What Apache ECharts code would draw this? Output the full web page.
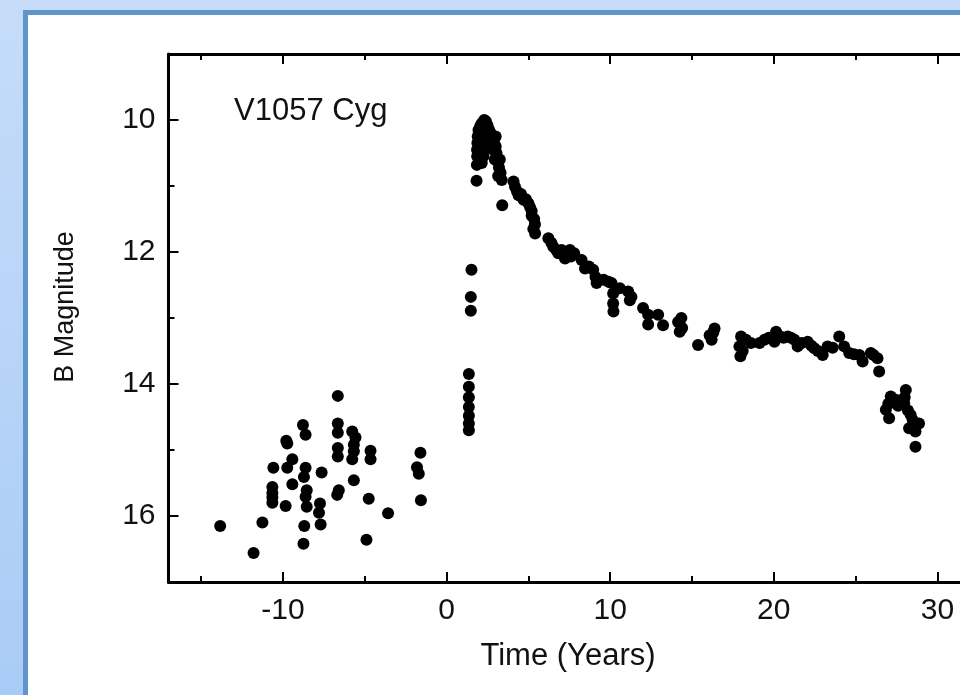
<!DOCTYPE html>
<html><head><meta charset="utf-8">
<script src="https://cdn.jsdelivr.net/npm/echarts@6/dist/echarts.min.js"></script>
<style>
html,body{margin:0;padding:0;width:960px;height:695px;overflow:hidden;}
#bg{position:absolute;left:0;top:0;width:960px;height:695px;background:linear-gradient(to bottom,#c6dcf9,#a9ccf6);}
#panel{position:absolute;left:23px;top:10px;width:1000px;height:800px;background:#fff;border:5px solid #5f95c9;box-sizing:border-box;}
#chart{position:absolute;left:0;top:0;width:960px;height:695px;}
</style></head><body>
<div id="bg"></div><div id="panel"></div><div id="chart"></div>
<script>
// ---- data: time (years) and B magnitude ----
const preT = [-13.84,-11.8,-11.26,-10.59,-10.65,-10.65,-10.65,-10.65,-9.84,-9.74,-9.74,-9.8,-9.43,-9.43,-8.78,-8.62,-8.62,-8.72,-8.55,-8.62,-8.55,-8.7,-8.75,-7.64,-7.74,-7.8,-7.7,-6.65,-6.65,-6.65,-6.65,-6.65,-6.59,-6.69,-5.77,-5.57,-5.67,-5.67,-5.77,-5.67,-4.65,-4.65,-4.76,-4.9,-3.58,-1.6,-1.81,-1.7,-1.57];
const preM = [16.15,16.56,16.10,15.27,15.56,15.65,15.72,15.80,15.85,15.27,14.90,14.86,15.14,15.52,14.62,14.77,15.27,15.41,15.61,15.71,15.86,16.15,16.42,15.34,15.81,15.95,16.13,14.18,14.60,14.74,14.97,15.10,15.61,15.68,14.72,14.81,14.92,15.02,15.14,15.46,15.01,15.14,15.74,16.36,15.96,15.04,15.26,15.36,15.76];

const riseT = [1.36,1.36,1.36,1.36,1.36,1.36,1.36,1.52,1.48,1.48];
const riseM = [13.85,14.04,14.2,14.35,14.48,14.6,14.7,12.27,12.68,12.89];

const peakT = [1.83,1.85,1.87,1.86,1.88,1.9,1.95,2.05,2.15,2.3,2.4,2.5,2.2,2.05,2.1,2.0,2.2,2.45,2.6,2.7,2.8,2.9,3.0,2.85,3.05,2.95,3.1,3.2,3.15,3.3,3.37,3.4,2.6,2.4,2.3,2.25,2.15,2.75,3.0,3.25];
const peakM = [10.92,10.68,10.55,10.45,10.35,10.25,10.15,10.1,10.05,10.0,10.02,10.08,10.2,10.3,10.45,10.55,10.35,10.15,10.15,10.2,10.25,10.3,10.4,10.45,10.5,10.6,10.62,10.72,10.85,10.8,10.91,11.29,10.3,10.3,10.45,10.55,10.65,10.38,10.25,10.6];

const decayT = [4.09,4.18,4.3,4.4,4.55,4.7,4.85,5.0,5.1,5.2,5.2,5.35,5.4,5.3,5.41,6.22,6.4,6.52,6.7,6.83,7.03,7.24,7.4,7.54,7.6,7.8,8.25,8.46,8.7,8.96,9.17,9.1,9.6,9.9,10.08,10.18,10.18,10.2,10.59,11.1,11.3,11.2,12.01,12.32,12.32,12.93,13.23,14.15,14.35,14.25,14.4,15.37,16.08,16.38,16.2,16.3];
const decayM = [10.93,11.01,11.08,11.14,11.12,11.21,11.2,11.26,11.32,11.38,11.45,11.5,11.58,11.65,11.72,11.79,11.86,11.92,11.97,12.02,11.97,12.1,12.04,11.97,12.07,12.02,12.12,12.25,12.22,12.27,12.47,12.38,12.42,12.45,12.47,12.63,12.78,12.9,12.55,12.6,12.68,12.73,12.85,12.95,13.1,12.95,13.11,13.06,13.0,13.21,13.15,13.41,13.26,13.16,13.33,13.22];

const plateauT = [17.9,17.96,18.0,18.1,18.3,18.6,19.13,19.43,19.7,20.04,20.14,20.4,20.6,20.85,21.05,21.26,21.46,21.7,22.07,22.3,22.48,22.7,22.99,23.29,23.6,24.0,24.3,24.61,24.9,25.23,25.43,25.93,26.1,26.34,26.44];
const plateauM = [13.43,13.58,13.28,13.5,13.33,13.38,13.38,13.33,13.3,13.36,13.21,13.28,13.3,13.28,13.3,13.33,13.43,13.38,13.36,13.42,13.46,13.5,13.56,13.43,13.45,13.28,13.43,13.53,13.55,13.56,13.66,13.53,13.56,13.61,13.81];

const fadeT = [26.85,27.05,27.15,27.0,27.3,27.46,27.6,27.97,28.07,28.0,28.2,28.37,28.27,28.5,28.88,28.66,28.66];
const fadeM = [14.39,14.52,14.19,14.3,14.28,14.24,14.33,14.29,14.09,14.2,14.4,14.47,14.67,14.55,14.6,14.72,14.95];

const xMajor = [-10, 0, 10, 20, 30];
const xMinor = [-15, -5, 5, 15, 25];
const yMajor = [10, 12, 14, 16];
const yMinor = [11, 13, 15];
const xLabelText = ['-10', '0', '10', '20', '30'];

const titleText = 'V1057 Cyg';
const xName = 'Time (Years)';
const yName = 'B Magnitude';

// ---- build ----
function pairs(ts, ms) { return ts.map((t, i) => [t, ms[i]]); }
const allData = [].concat(
  pairs(preT, preM), pairs(riseT, riseM), pairs(peakT, peakM),
  pairs(decayT, decayM), pairs(plateauT, plateauM), pairs(fadeT, fadeM)
);

const FONT = 'Liberation Sans, Arial, Helvetica, sans-serif';
const X_MIN = -17, X_MAX = 32, Y_MIN = 9, Y_MAX = 17;

function xAx(pos, ticks, len, showLine, showLabel) {
  return {
    type: 'value', min: X_MIN, max: X_MAX, position: pos,
    axisLine: { show: showLine, onZero: false, lineStyle: { color: '#000', width: 3 } },
    axisTick: { show: true, inside: true, length: len, customValues: ticks, lineStyle: { color: '#000', width: 2 } },
    axisLabel: showLabel ? { show: true, customValues: xMajor, fontSize: 30, color: '#111', fontFamily: FONT, margin: 14,
      formatter: v => xLabelText[xMajor.indexOf(v)] } : { show: false },
    splitLine: { show: false }
  };
}
function yAx(pos, ticks, len, showLine, showLabel) {
  return {
    type: 'value', min: Y_MIN, max: Y_MAX, inverse: true, position: pos,
    axisLine: { show: showLine, onZero: false, lineStyle: { color: '#000', width: 3 } },
    axisTick: { show: true, inside: true, length: len, customValues: ticks, lineStyle: { color: '#000', width: 2 } },
    axisLabel: showLabel ? { show: true, customValues: yMajor, fontSize: 30, color: '#111', fontFamily: FONT, margin: 13 } : { show: false },
    splitLine: { show: false }
  };
}

const chart = echarts.init(document.getElementById('chart'), null, { renderer: 'canvas' });
chart.setOption({
  animation: false,
  backgroundColor: 'transparent',
  grid: { left: 168.5, top: 54, width: 801.6, height: 528, containLabel: false, outerBoundsMode: 'none' },
  xAxis: [
    xAx('bottom', xMajor, 10, true, true),
    xAx('bottom', xMinor, 6, false, false),
    xAx('top', xMajor, 10, true, false),
    xAx('top', xMinor, 6, false, false)
  ],
  yAxis: [
    yAx('left', yMajor, 10, true, true),
    yAx('left', yMinor, 6, false, false),
    yAx('right', yMajor, 10, true, false),
    yAx('right', yMinor, 6, false, false)
  ],
  graphic: [
    { type: 'text', left: 234, top: 96, style: { text: titleText, fontSize: 31, fontFamily: FONT, fill: '#111' } },
    { type: 'text', x: 568, y: 656, style: { text: xName, fontSize: 31, fontFamily: FONT, fill: '#111', align: 'center', verticalAlign: 'middle' } },
    { type: 'text', x: 66, y: 307, rotation: Math.PI / 2, style: { text: yName, fontSize: 27, fontFamily: FONT, fill: '#111', align: 'center', verticalAlign: 'middle' } }
  ],
  series: [{
    type: 'scatter', xAxisIndex: 0, yAxisIndex: 0,
    symbol: 'circle', symbolSize: 12,
    itemStyle: { color: '#000', opacity: 1 },
    data: allData
  }]
});
</script></body></html>
